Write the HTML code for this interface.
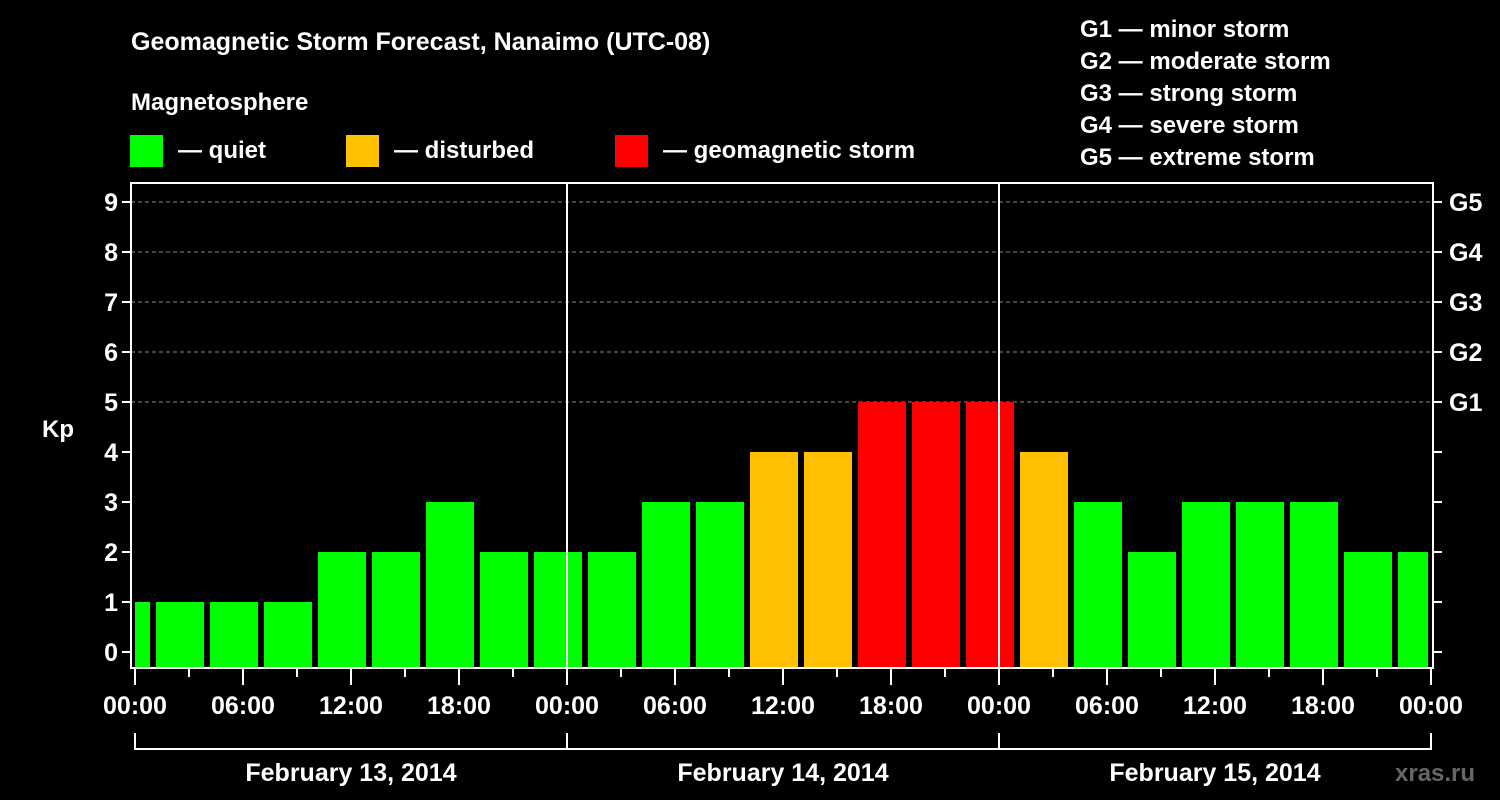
<!DOCTYPE html>
<html><head><meta charset="utf-8"><style>
body{margin:0;background:#000;width:1500px;height:800px;overflow:hidden}
svg{display:block}
text{font-family:"Liberation Sans",sans-serif;font-weight:bold;fill:#fff}
</style></head><body>
<svg id="chart" width="1500" height="800">
<text x="131" y="50" font-size="25">Geomagnetic Storm Forecast, Nanaimo (UTC-08)</text>
<text x="131" y="110" font-size="24">Magnetosphere</text>
<rect x="130" y="135" width="33" height="32" fill="#00ff00"/>
<text x="178" y="158" font-size="24">— quiet</text>
<rect x="346" y="135" width="33" height="32" fill="#ffc000"/>
<text x="394" y="158" font-size="24">— disturbed</text>
<rect x="615" y="135" width="33" height="32" fill="#ff0000"/>
<text x="663" y="158" font-size="24">— geomagnetic storm</text>
<g font-size="24">
<text x="1080" y="37">G1 — minor storm</text>
<text x="1080" y="69">G2 — moderate storm</text>
<text x="1080" y="101">G3 — strong storm</text>
<text x="1080" y="133">G4 — severe storm</text>
<text x="1080" y="165">G5 — extreme storm</text>
</g>
<text x="42" y="437" font-size="24">Kp</text>
<text x="1395" y="781" font-size="24" fill="#666" style="fill:#666">xras.ru</text>
<g id="grid"></g><g id="bars"></g><g id="axes"></g>
</svg>
<script>
const kpValues=[1,1,1,1,2,2,3,2,2, 2,3,3,4,4,5,5,5,5, 4,3,2,3,3,3,2,2];
const yTicks=[0,1,2,3,4,5,6,7,8,9];
const gLabels=["","","","","","G1","G2","G3","G4","G5"];
const xTickLabels=["00:00","06:00","12:00","18:00","00:00","06:00","12:00","18:00","00:00","06:00","12:00","18:00","00:00"];
const dateLabels=["February 13, 2014","February 14, 2014","February 15, 2014"];
const startHour=-2, stepHours=3, totalHours=72;
</script>
<script>
// fix: reconstruct series of 25 intervals (Feb13: 9, Feb14: 8, Feb15: 8)
kpValues.splice(17,1);
const NS="http://www.w3.org/2000/svg";
const L=131,R=1433,T=183,B=668,X0=135,X1=1431;
const xs=h=>X0+(X1-X0)*h/totalHours;
const ys=v=>652-50*v;
function mk(tag,attrs,parent){const e=document.createElementNS(NS,tag);for(const k in attrs)e.setAttribute(k,attrs[k]);parent.appendChild(e);return e;}
const grid=document.getElementById('grid'),bars=document.getElementById('bars'),axes=document.getElementById('axes');
yTicks.forEach(v=>{
  if(v>=5){const l=mk('line',{x1:L,x2:R,y1:ys(v),y2:ys(v),stroke:'#888','stroke-width':1,'stroke-dasharray':'4,3'},grid);
  
  }
  const t=mk('line',{x1:L-9,x2:L,y1:ys(v),y2:ys(v),stroke:'#fff','stroke-width':2},axes);
  
  
  const t2=mk('line',{x1:R,x2:R+9,y1:ys(v),y2:ys(v),stroke:'#fff','stroke-width':2},axes);
  
  
  const lb=mk('text',{x:L-13,y:ys(v)+9,'text-anchor':'end','font-size':25},axes);lb.textContent=v;
  
  
  if(gLabels[v]){const g=mk('text',{x:R+16,y:ys(v)+9,'font-size':25},axes);g.textContent=gLabels[v];
  
  }
});
kpValues.forEach((v,i)=>{
  let h0=startHour+i*stepHours,h1=h0+stepHours;
  let a=Math.max(xs(h0)+3,X0),b=Math.min(xs(h1)-3,X1-3);
  const c=v>=5?'#ff0000':(v>=4?'#ffc000':'#00ff00');
  const r=mk('rect',{x:a,y:ys(v),width:b-a,height:B-ys(v),fill:c},bars);
  
  
});
[1,2].forEach(d=>{const l=mk('line',{x1:xs(d*24),x2:xs(d*24),y1:T,y2:B,stroke:'#fff','stroke-width':2},axes);
  
  });
const frame=mk('rect',{x:L,y:T,width:R-L,height:B-T,fill:'none',stroke:'#fff','stroke-width':2},axes);


for(let h=0;h<=totalHours;h+=3){
  const major=h%6===0;
  const t=mk('line',{x1:xs(h),x2:xs(h),y1:B,y2:B+(major?17:9),stroke:'#fff','stroke-width':2},axes);
  
  
}
xTickLabels.forEach((s,i)=>{const t=mk('text',{x:xs(i*6),y:714,'text-anchor':'middle','font-size':25},axes);t.textContent=s;
  
  });
const br=mk('polyline',{points:`${xs(0)},733 ${xs(0)},749 ${xs(72)},749 ${xs(72)},733`,fill:'none',stroke:'#fff','stroke-width':2},axes);


[1,2].forEach(d=>{const l=mk('line',{x1:xs(d*24),x2:xs(d*24),y1:733,y2:749,stroke:'#fff','stroke-width':2},axes);
  
  });
dateLabels.forEach((s,i)=>{const t=mk('text',{x:xs(i*24+12),y:781,'text-anchor':'middle','font-size':25},axes);t.textContent=s;
  
  });
</script>
</body></html>
